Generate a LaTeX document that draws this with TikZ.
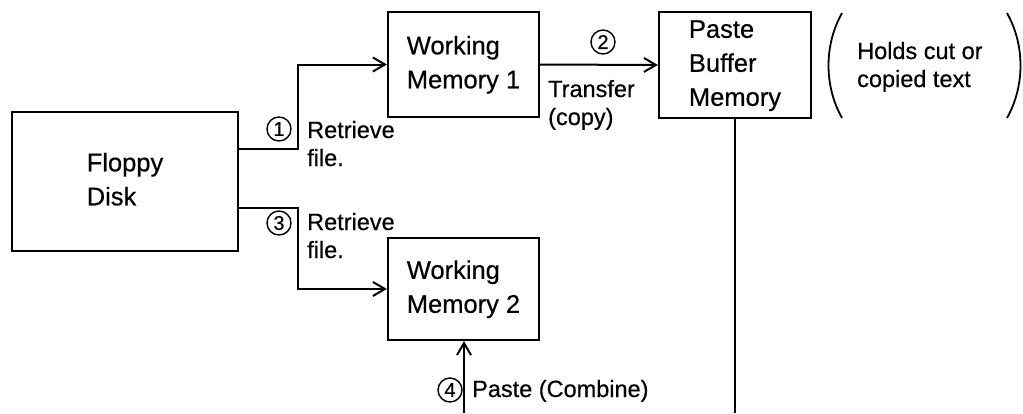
\documentclass[tikz,border=0pt]{standalone}
\usepackage{fontspec}
\setmainfont{Liberation Sans}
\newfontfamily\heavy{Liberation Sans}[FakeBold=0.5]
\usetikzlibrary{arrows.meta}
\newcommand{\lines}[1]{\begin{tabular}[t]{@{}l@{}}#1\end{tabular}}
\newcommand{\blines}[1]{\begin{tabular}{@{}l@{}}#1\end{tabular}}
\tikzset{
  box/.style={draw, line width=2.2pt, rectangle, inner sep=0pt, font=\heavy\fontsize{25.5}{34}\selectfont},
  lbl/.style={anchor=base west, inner sep=0pt, font=\heavy\fontsize{23.5}{28}\selectfont},
  circnum/.style={draw, circle, line width=1.4pt, minimum size=24pt, inner sep=0pt, font=\heavy\fontsize{20}{22}\selectfont},
  conn/.style={line width=2pt},
  arr/.style={conn, -{Straight Barb[length=12pt,width=14pt,line width=2pt]}},
  paren/.style={line width=1.8pt}
}
\begin{document}
\begin{tikzpicture}[x=1pt,y=-1pt]
\useasboundingbox (0,0) rectangle (1023,413);
% boxes
\node[box, minimum width=226pt, minimum height=139pt] (FD) at (125,181.5) {\blines{Floppy\\Disk}};
\node[box, minimum width=151pt, minimum height=105pt] (WM1) at (463.5,64.5) {\blines{Working\\Memory 1}};
\node[box, minimum width=151pt, minimum height=102pt] (WM2) at (463.5,289) {\blines{Working\\Memory 2}};
\node[box, minimum width=152pt, minimum height=106pt] (PB) at (735,65) {\blines{Paste\\Buffer\\Memory}};
% coordinates
\coordinate (j1) at (298,149);
\coordinate (j3) at (298,208);
\coordinate (p4) at (464,413);
\coordinate (pbend) at (735,413);
% connectors
\draw[arr] (FD.east |- j1) -- (j1) |- (WM1.west);
\draw[arr] (FD.east |- j3) -- (j3) |- (WM2.west);
\draw[arr] (WM1.east) -- (PB.west);
\draw[arr] (p4) -- (WM2.south -| p4);
\draw[conn] (PB.south) -- (pbend);
% circled numbers
\node[circnum] (c1) at (279,129) {1};
\node[circnum] (c2) at (603,42) {2};
\node[circnum] (c3) at (279,223) {3};
\node[circnum] (c4) at (450,390) {4};
% labels
\node[lbl] (l1) at (307,138) {\lines{Retrieve\\file.}};
\node[lbl] (l2) at (548,97) {\lines{Transfer\\(copy)}};
\node[lbl] (l3) at (307,230) {\lines{Retrieve\\file.}};
\node[lbl] (l4) at (472,397) {Paste (Combine)};
\node[lbl] (l5) at (857,59) {\lines{Holds cut or\\copied text}};
% parentheses
\draw[paren] (842,13) .. controls (824,45) and (824,86) .. (842,118);
\draw[paren] (1007,13) .. controls (1025,45) and (1025,86) .. (1007,118);
\end{tikzpicture}
\end{document}
